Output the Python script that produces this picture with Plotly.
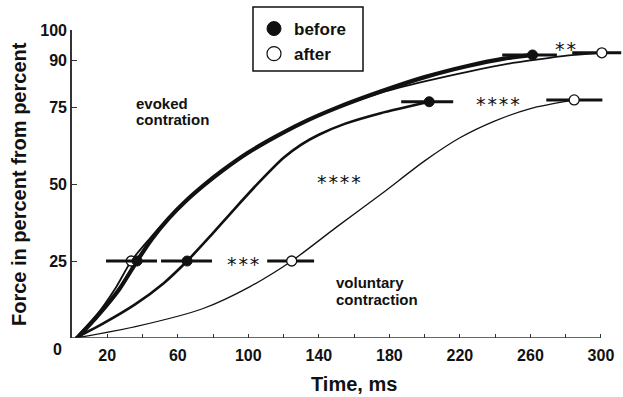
import plotly.graph_objects as go

# ---- data (time in ms, force in %) ----
evoked_before_t = [3, 15, 27, 36.9, 45, 55, 65, 75, 85, 100, 115, 130, 150, 175, 200, 225, 245, 261.2]
evoked_before_f = [0, 7.5, 16, 25, 31.9, 38.9, 44.7, 49.7, 54.2, 60.2, 65.2, 69.7, 74.7, 80, 84.7, 88.4, 90.7, 91.9]

evoked_after_t = [2, 14, 25, 33.6, 43.5, 54.5, 65, 75, 85, 100, 115, 130, 150, 175, 200, 225, 250, 270, 285, 300.5]
evoked_after_f = [0, 7.5, 16.5, 25, 31.9, 38.9, 44.7, 49.7, 54.2, 60.2, 65.2, 69.7, 74.7, 79.6, 83.3, 86.5, 89.3, 90.9, 91.9, 92.6]

vol_before_t = [2, 17, 36, 52, 65.3, 78, 92, 106, 120, 130, 140, 155, 175, 202.6]
vol_before_f = [0, 4.5, 11, 17.8, 25, 32.8, 41.8, 50.5, 58.5, 62.8, 66, 69.6, 73, 76.7]

vol_after_t = [2, 36, 74, 101, 124.6, 150, 176, 200, 220, 240, 260, 284.8]
vol_after_f = [0, 3.7, 9.5, 16.7, 25, 36, 47, 57.5, 65, 70.5, 74.5, 77.3]

# markers (mean time to reach level) with horizontal error bars
before_pts_t = [36.9, 65.3, 202.6, 261.2]
before_pts_f = [25, 25, 76.7, 91.9]
before_err_minus = [17.6, 14.8, 15.9, 17.2]
before_err_plus = [11.3, 14.1, 13.6, 13.8]

after_pts_t = [33.6, 124.6, 284.8, 300.5]
after_pts_f = [25, 25, 77.3, 92.6]
after_err_minus = [0, 13.9, 15.8, 16.8]
after_err_plus = [0, 12.7, 16.0, 11.0]

x_ticks = [20, 40, 60, 80, 100, 120, 140, 160, 180, 200, 220, 240, 260, 280, 300]
x_ticktext = ["20", "", "60", "", "100", "", "140", "", "180", "", "220", "", "260", "", "300"]
y_ticks = [25, 50, 75, 90, 100]
y_ticktext = ["25", "50", "75", "90", "100"]

signif_labels = ["*\u200a*\u200a*", "*\u200a*\u200a*\u200a*", "*\u200a*\u200a*\u200a*", "*\u200a*"]
signif_t = [97.2, 151.4, 241.8, 280.1]
signif_f = [25.3, 51.9, 77.3, 95.1]

FONT = "Liberation Sans, Arial, Helvetica, sans-serif"
STAR_FONT = "DejaVu Sans, Liberation Sans, sans-serif"
INK = "#111111"

# plot area in pixels
L, R, T, B = 72, 623, 30, 338
def px(xp):
    return (xp - L) / (R - L)
def py(yp):
    return (B - yp) / (B - T)

fig = go.Figure()

def line(t, f, w):
    fig.add_trace(go.Scatter(x=t, y=f, mode="lines", showlegend=False, hoverinfo="skip",
                             line=dict(color=INK, width=w, shape="spline", smoothing=0.7)))

line(vol_after_t, vol_after_f, 1.3)
line(vol_before_t, vol_before_f, 2.6)
line(evoked_after_t, evoked_after_f, 1.8)
line(evoked_before_t, evoked_before_f, 4.2)

fig.add_trace(go.Scatter(x=after_pts_t, y=after_pts_f, mode="markers", showlegend=False,
                         marker=dict(symbol="circle", size=10, color="white", line=dict(color=INK, width=1.3)),
                         error_x=dict(type="data", symmetric=False, array=after_err_plus,
                                      arrayminus=after_err_minus, thickness=3, width=0, color=INK),
                         cliponaxis=False))
fig.add_trace(go.Scatter(x=before_pts_t, y=before_pts_f, mode="markers", showlegend=False,
                         marker=dict(symbol="circle", size=10, color=INK, line=dict(color=INK, width=1)),
                         error_x=dict(type="data", symmetric=False, array=before_err_plus,
                                      arrayminus=before_err_minus, thickness=3, width=0, color=INK),
                         cliponaxis=False))

# legend entries
fig.add_trace(go.Scatter(x=[None], y=[None], mode="markers", name="before", legendgroup="a",
                         marker=dict(symbol="circle", size=14, color=INK, line=dict(color=INK, width=1))))
fig.add_trace(go.Scatter(x=[None], y=[None], mode="markers", name="after", legendgroup="b",
                         marker=dict(symbol="circle", size=14, color="white", line=dict(color=INK, width=1.2))))

# legend frame
fig.add_shape(type="rect", xref="paper", yref="paper", x0=px(253), x1=px(363), y0=py(71), y1=py(7),
              line=dict(color=INK, width=1.5), fillcolor="rgba(0,0,0,0)", layer="above")

# x axis line (ends at 300)
fig.add_shape(type="line", x0=0, x1=300, y0=0, y1=0, xref="x", yref="y",
              line=dict(color="#333333", width=1.6))

for lab, t, f in zip(signif_labels, signif_t, signif_f):
    fig.add_annotation(x=t, y=f, text=lab, showarrow=False, yshift=-4,
                       font=dict(family=STAR_FONT, size=19, color=INK))

def label(text, xp, yp, size=15, anchor="left", angle=0):
    fig.add_annotation(x=px(xp), y=py(yp), xref="paper", yref="paper", text=text,
                       showarrow=False, xanchor=anchor, yanchor="middle", textangle=angle,
                       font=dict(family=FONT, size=size, color=INK, weight="bold"))

label("evoked", 134, 103)
label("contration", 134, 119)
label("voluntary", 334, 282)
label("contraction", 334, 299)
label("0", 57.5, 349, size=16, anchor="center")
label("Time, ms", 354, 384, size=20, anchor="center")
label("Force in percent from percent", 19, 184, size=20, anchor="center", angle=-90)

fig.update_layout(
    width=623, height=397,
    margin=dict(l=L, r=623 - R, t=T, b=397 - B),
    paper_bgcolor="white", plot_bgcolor="white",
    font=dict(family=FONT, color=INK),
    showlegend=True,
    legend=dict(x=px(254), y=py(11), xanchor="left", yanchor="top",
                borderwidth=0, bgcolor="rgba(0,0,0,0)",
                font=dict(family=FONT, size=17, color=INK, weight="bold"),
                tracegroupgap=0, itemsizing="trace"),
    xaxis=dict(range=[0, 312.5], showgrid=False, zeroline=False, showline=False,
               tickmode="array", tickvals=x_ticks, ticktext=x_ticktext,
               ticks="inside", ticklen=4, tickwidth=1.2, tickcolor="#333333",
               ticklabelstandoff=6,
               tickfont=dict(family=FONT, size=16, color=INK, weight="bold")),
    yaxis=dict(range=[0, 100], showgrid=False, zeroline=False, showline=True,
               linecolor="#333333", linewidth=1.6,
               tickmode="array", tickvals=y_ticks, ticktext=y_ticktext,
               ticks="inside", ticklen=5, tickwidth=1.2, tickcolor="#333333",
               tickfont=dict(family=FONT, size=16, color=INK, weight="bold")),
)

fig.write_html("out.html")
